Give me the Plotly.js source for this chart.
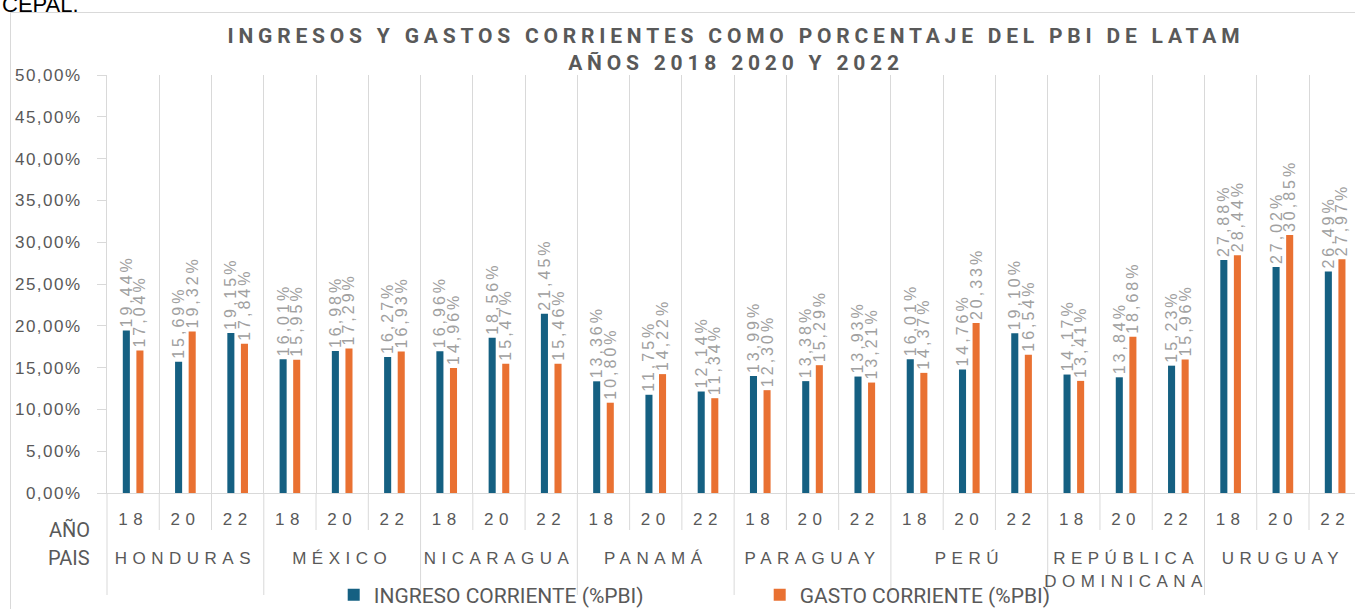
<!DOCTYPE html>
<html>
<head>
<meta charset="utf-8">
<script src="https://cdn.plot.ly/plotly-3.0.1.min.js"></script>
<style>
  html, body { margin: 0; padding: 0; background: #ffffff; overflow: hidden; }
  #frame { position: absolute; left: 10px; top: 12px; width: 1500px; height: 800px;
           border-left: 1px solid #d9d9d9; border-top: 1px solid #d9d9d9; box-sizing: border-box; }
  #chart { position: absolute; left: 0; top: 0; width: 1355px; height: 609px; }
  text.bartext { letter-spacing: 3px; }
  text.gtitle { letter-spacing: 4.8px; }
  .xtick text, .xtick2 text { letter-spacing: 5.5px; }
  g.xtick { transform: translateY(11px); }
  g.xtick2 { transform: translateY(29px); }
  .ytick text { letter-spacing: 1.5px; }
</style>
</head>
<body>
<div id="frame"></div>
<div id="chart"></div>
<script>
// ---- data ----
const countries = ["HONDURAS", "MÉXICO", "NICARAGUA", "PANAMÁ", "PARAGUAY", "PERÚ", "REPÚBLICA DOMINICANA", "URUGUAY"];
const years = ["18", "20", "22"];
const ingreso = [19.44, 15.69, 19.15, 16.01, 16.98, 16.27, 16.96, 18.56, 21.45, 13.36, 11.75, 12.14,
                 13.99, 13.38, 13.93, 16.01, 14.76, 19.10, 14.17, 13.84, 15.23, 27.88, 27.02, 26.49];
const gasto = [17.04, 19.32, 17.84, 15.95, 17.29, 16.93, 14.96, 15.47, 15.46, 10.80, 14.22, 11.34,
               12.30, 15.29, 13.21, 14.37, 20.33, 16.54, 13.41, 18.68, 15.96, 28.44, 30.85, 27.97];
const seriesNames = ["INGRESO CORRIENTE (%PBI)", "GASTO CORRIENTE (%PBI)"];
const titleText = "INGRESOS Y GASTOS CORRIENTES COMO PORCENTAJE DEL PBI DE LATAM<br>AÑOS 2018 2020 Y 2022";

// ---- build multicategory axis ----
const outer = [], inner = [];
countries.forEach(c => {
  const label = c.replace(" ", "<br>");
  years.forEach(y => { outer.push(label); inner.push(y); });
});
const nCat = outer.length;
const rangeMax = 23.38;
const span = rangeMax + 0.5;

const sans = "Liberation Sans, Arial, sans-serif";
const rob = "Roboto, Liberation Sans, sans-serif";

const common = {
  type: "bar",
  x: [outer, inner],
  texttemplate: "%{y:.2f}%",
  textposition: "outside",
  textangle: -90,
  constraintext: "none",
  cliponaxis: false,
  textfont: { family: sans, size: 16, color: "#a0a0a0" },
  hoverinfo: "skip"
};
const traces = [
  Object.assign({}, common, { y: ingreso, name: seriesNames[0], marker: { color: "#156082" } }),
  Object.assign({}, common, { y: gasto, name: seriesNames[1], marker: { color: "#E97132" } })
];

// separators below the axis
const shapes = [];
const plotH = 418;
for (let k = 0; k <= nCat; k++) {
  const px = k / span;
  if (px > 1.0001) break;
  shapes.push({
    type: "line", xref: "paper", yref: "paper",
    x0: px, x1: px, y0: 0, y1: (k % 3 === 0) ? -102 / plotH : -37 / plotH,
    line: { color: "#d9d9d9", width: 1 }, layer: "below"
  });
}

const layout = {
  width: 1355, height: 609,
  paper_bgcolor: "rgba(0,0,0,0)",
  plot_bgcolor: "rgba(0,0,0,0)",
  separators: ",.",
  margin: { l: 107, r: 0, t: 75, b: 116, pad: 0, autoexpand: false },
  barmode: "group",
  bargap: 0.48,
  bargroupgap: 0.48,
  showlegend: true,
  font: { family: sans, color: "#595959" },
  title: {
    text: titleText,
    font: { family: rob, size: 21, color: "#595959", weight: "bold" },
    xref: "paper", x: 0.504, xanchor: "center",
    yref: "container", y: 1 - 43 / 609, yanchor: "top"
  },
  xaxis: {
    type: "multicategory",
    range: [-0.5, rangeMax],
    tickson: "boundaries",
    showgrid: true, gridcolor: "#d9d9d9", gridwidth: 1,
    showdividers: false,
    ticks: "",
    tickfont: { family: sans, size: 17, color: "#595959" },
    showline: true, linecolor: "#d9d9d9", linewidth: 1,
    zeroline: false, fixedrange: true
  },
  yaxis: {
    range: [0, 50], dtick: 5, tick0: 0,
    tickformat: ".2f", ticksuffix: "%",
    ticks: "outside", ticklen: 9, tickcolor: "#d9d9d9",
    ticklabelstandoff: 12,
    showline: true, linecolor: "#d9d9d9",
    showgrid: false, zeroline: false,
    tickfont: { family: sans, size: 17, color: "#595959" },
    fixedrange: true
  },
  legend: {
    orientation: "h", x: 0.523, xanchor: "center", y: -102 / plotH, yanchor: "middle",
    font: { family: rob, size: 21, color: "#595959" },
    entrywidth: 381, entrywidthmode: "pixels",
    bgcolor: "rgba(0,0,0,0)"
  },
  shapes: shapes,
  annotations: [
    { text: "AÑO", xref: "paper", yref: "paper", x: 0, xshift: -15, xanchor: "right",
      y: -37 / plotH, yanchor: "middle", showarrow: false,
      font: { family: rob, size: 20, color: "#595959" } },
    { text: "PAIS", xref: "paper", yref: "paper", x: 0, xshift: -15, xanchor: "right",
      y: -65 / plotH, yanchor: "middle", showarrow: false,
      font: { family: rob, size: 20, color: "#595959" } },
    { text: "CEPAL.", xref: "paper", yref: "paper", x: -107 / 1248, xanchor: "left",
      y: (493 - 5) / plotH, yanchor: "middle", showarrow: false,
      font: { family: sans, size: 22, color: "#000000" } }
  ]
};

Plotly.newPlot("chart", traces, layout, { displayModeBar: false, staticPlot: true });
</script>
</body>
</html>
